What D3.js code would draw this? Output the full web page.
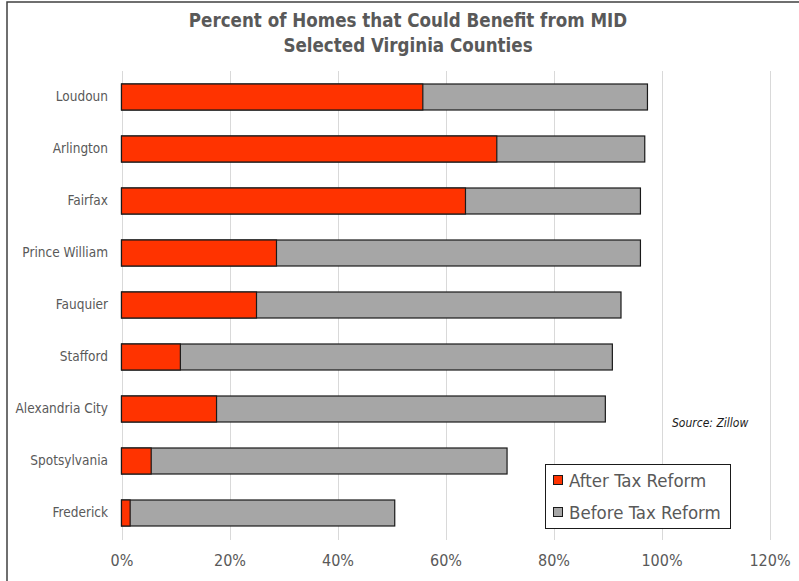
<!DOCTYPE html>
<html>
<head>
<meta charset="utf-8">
<script src="https://cdn.jsdelivr.net/npm/d3@7"></script>
<style>
  html, body { margin: 0; padding: 0; background: #fff; }
  svg { display: block; }
</style>
</head>
<body>
<svg id="chart" width="799" height="581"></svg>
<script>
// Share of homes that could benefit from the mortgage interest deduction
const counties = ["Loudoun", "Arlington", "Fairfax", "Prince William", "Fauquier",
                  "Stafford", "Alexandria City", "Spotsylvania", "Frederick"];
const afterReform  = [0.558, 0.695, 0.637, 0.287, 0.250, 0.109, 0.176, 0.055, 0.016];
const beforeReform = [0.974, 0.969, 0.961, 0.961, 0.925, 0.909, 0.896, 0.714, 0.506];
const xTicks = [0, 0.2, 0.4, 0.6, 0.8, 1.0, 1.2];
const seriesNames = ["After Tax Reform", "Before Tax Reform"];
const titleLines = ["Percent of Homes that Could Benefit from MID", "Selected Virginia Counties"];
const sourceNote = "Source: Zillow";

const COLOR_AFTER = "#ff3300";
const COLOR_BEFORE = "#a6a6a6";
const TEXT = "#595959";
const FONT = "'DejaVu Sans Condensed', 'DejaVu Sans', sans-serif";

const svg = d3.select("#chart");

const rows = counties.map((c, i) => ({ county: c, after: afterReform[i], before: beforeReform[i] }));

const x = d3.scaleLinear().domain([0, 1.2]).range([121.5, 769.5]);
const y = d3.scaleBand().domain(counties).range([71, 539]).paddingInner(0.5).paddingOuter(0.25);

// chart frame (top and left edges)
svg.append("path")
  .attr("d", "M7,581 L7,2 L799,2")
  .attr("fill", "none").attr("stroke", "#404040").attr("stroke-width", 1.5);

// title
svg.append("g").selectAll("text").data(titleLines).join("text")
  .attr("x", 408).attr("y", (d, i) => 27 + i * 25)
  .attr("text-anchor", "middle")
  .attr("font-family", FONT).attr("font-weight", "bold").attr("font-size", 18.6)
  .attr("fill", TEXT).text(d => d);

// vertical gridlines
svg.append("g").selectAll("line").data(xTicks).join("line")
  .attr("x1", d => Math.round(x(d)) + 0.5).attr("x2", d => Math.round(x(d)) + 0.5)
  .attr("y1", 71).attr("y2", 540)
  .attr("stroke", "#d9d9d9").attr("stroke-width", 1);

// x axis labels
const xAxis = d3.axisBottom(x).tickValues(xTicks).tickFormat(d3.format(".0%")).tickSize(0).tickPadding(0);
const gx = svg.append("g").attr("transform", "translate(0,555)").call(xAxis);
gx.select(".domain").remove();
gx.selectAll("text")
  .attr("font-family", FONT).attr("font-size", 16).attr("fill", TEXT).attr("dy", "0.71em");

// category labels
const yAxis = d3.axisLeft(y).tickSize(0).tickPadding(0);
const gy = svg.append("g").attr("transform", "translate(108,0)").call(yAxis);
gy.select(".domain").remove();
gy.selectAll("text")
  .attr("font-family", FONT).attr("font-size", 13.5).attr("fill", TEXT);

// bars: "before" full length, "after" drawn on top
const bars = svg.append("g");
bars.selectAll("rect.before").data(rows).join("rect")
  .attr("class", "before")
  .attr("x", x(0)).attr("y", d => y(d.county))
  .attr("width", d => x(d.before) - x(0)).attr("height", y.bandwidth())
  .attr("fill", COLOR_BEFORE).attr("stroke", "#1a1a1a").attr("stroke-width", 1.2);
bars.selectAll("rect.after").data(rows).join("rect")
  .attr("class", "after")
  .attr("x", x(0)).attr("y", d => y(d.county))
  .attr("width", d => x(d.after) - x(0)).attr("height", y.bandwidth())
  .attr("fill", COLOR_AFTER).attr("stroke", "#1a1a1a").attr("stroke-width", 1.2);

// source note
svg.append("text")
  .attr("x", 672).attr("y", 427)
  .attr("font-family", FONT).attr("font-style", "italic").attr("font-size", 12)
  .attr("fill", "#1a1a1a").text(sourceNote);

// legend
const legend = svg.append("g");
legend.append("rect")
  .attr("x", 545.5).attr("y", 464.5).attr("width", 185).attr("height", 64)
  .attr("fill", "#fff").attr("stroke", "#1a1a1a").attr("stroke-width", 1);
const items = legend.selectAll("g.item").data(seriesNames).join("g")
  .attr("class", "item")
  .attr("transform", (d, i) => `translate(553,${475 + i * 32})`);
items.append("rect")
  .attr("x", 0.5).attr("y", 0.5).attr("width", 9).attr("height", 9)
  .attr("fill", (d, i) => i === 0 ? COLOR_AFTER : COLOR_BEFORE)
  .attr("stroke", "#1a1a1a").attr("stroke-width", 1);
items.append("text")
  .attr("x", 16).attr("y", 12)
  .attr("font-family", FONT).attr("font-size", 18.5).attr("fill", TEXT)
  .text(d => d);
</script>
</body>
</html>
